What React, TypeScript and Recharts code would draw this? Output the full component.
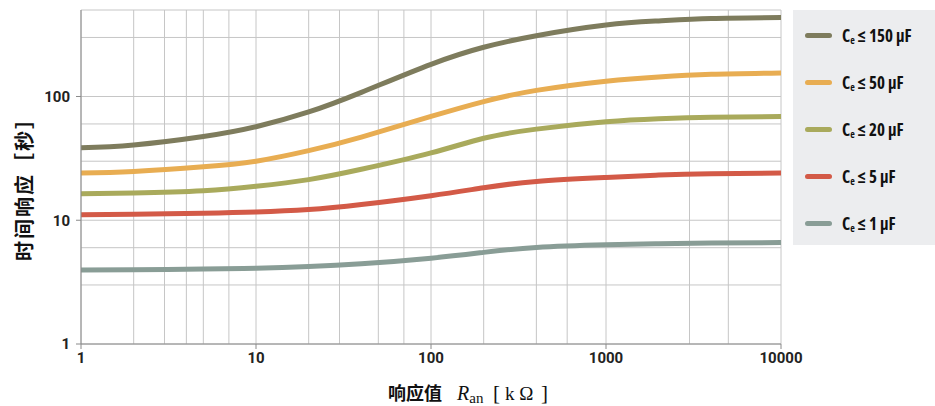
import React from "react";
import { LineChart, Line, XAxis, YAxis, CartesianGrid, Label } from "recharts";

const resistance = [1, 2, 5, 10, 20, 40, 100, 200, 400, 1000, 2000, 4000, 10000];
const ce150 = [38.6, 40.6, 47.5, 57, 75, 108, 182, 250, 310, 378, 408, 427, 434];
const ce50 = [24.1, 24.8, 27, 30, 36.5, 47, 69, 91, 112, 133, 144, 151, 155];
const ce20 = [16.4, 16.6, 17.3, 18.8, 21.3, 25.8, 35, 46, 54.5, 62.4, 66, 68, 68.9];
const ce5 = [11.1, 11.2, 11.4, 11.65, 12.2, 13.4, 15.8, 18.3, 20.6, 22.2, 23.2, 23.8, 24.1];
const ce1 = [3.97, 3.99, 4.03, 4.1, 4.23, 4.45, 4.94, 5.5, 6.03, 6.33, 6.46, 6.55, 6.6];

const xTicks = [1, 10, 100, 1000, 10000];
const yTicks = [1, 10, 100];
const xGrid = [1, 2, 3, 4, 5, 6, 7, 8, 9, 10, 20, 30, 40, 50, 60, 70, 80, 90, 100, 200, 300, 400, 500, 600, 700, 800, 900, 1000, 2000, 3000, 4000, 5000, 6000, 7000, 8000, 9000, 10000];
const yGrid = [1, 2, 3, 4, 5, 6, 7, 8, 9, 10, 20, 30, 40, 50, 60, 70, 80, 90, 100, 200, 300, 400, 500];

const series = [
  { key: "c150", label: "150 μF", color: "#7e7c5d", values: ce150 },
  { key: "c50", label: "50 μF", color: "#e8ad52", values: ce50 },
  { key: "c20", label: "20 μF", color: "#a9aa5c", values: ce20 },
  { key: "c5", label: "5 μF", color: "#d35a47", values: ce5 },
  { key: "c1", label: "1 μF", color: "#899d96", values: ce1 },
];

const data = resistance.map((r, i) => {
  const row: any = { r };
  series.forEach((s) => (row[s.key] = s.values[i]));
  return row;
});

const tickStyle = { fontFamily: "Roboto, sans-serif", fontWeight: 700, fontSize: 15, fill: "#222" };

const XLabel = (props: any) => {
  const vb = props.viewBox || {};
  const x0 = vb.x;
  const y = vb.y + 56;
  const serif = "'Liberation Serif', 'DejaVu Serif', serif";
  return (
    <text y={y} fill="#111">
      <tspan x={x0 + 307} fontFamily="'Noto Sans CJK SC', sans-serif" fontWeight={700} fontSize={18}>响应值</tspan>
      <tspan x={x0 + 376} fontFamily={serif} fontStyle="italic" fontSize={20}>R</tspan>
      <tspan fontFamily={serif} fontSize={15} dy={3}>an</tspan>
      <tspan x={x0 + 412} dy={-3} fontFamily={serif} fontSize={21}>[</tspan>
      <tspan x={x0 + 424} fontFamily={serif} fontSize={19}>k Ω</tspan>
      <tspan x={x0 + 460} fontFamily={serif} fontSize={21}>]</tspan>
    </text>
  );
};

const YLabel = (props: any) => {
  const vb = props.viewBox || {};
  const x = 23;
  const cy = vb.y + vb.height / 2 + 8;
  return (
    <text
      x={x}
      y={cy}
      transform={`rotate(-90 ${x} ${cy})`}
      textAnchor="middle"
      dominantBaseline="central"
      fontFamily="'Noto Sans CJK SC', sans-serif"
      fontWeight={700}
      fontSize={20}
      textLength={152}
      lengthAdjust="spacing"
      fill="#111"
    >
      时间响应［秒］
    </text>
  );
};

export default function App() {
  return (
    <div style={{ position: "absolute", left: 0, top: 0, width: 935, height: 406, background: "#fff" }}>
      <LineChart width={935} height={406} data={data} margin={{ top: 10, right: 154, bottom: 32, left: 21 }}>
        <CartesianGrid
          stroke="#c6c6c6"
          strokeWidth={1}
          horizontalValues={yGrid}
          verticalValues={xGrid}
        />
        <XAxis
          dataKey="r"
          type="number"
          scale="log"
          domain={[1, 10000]}
          ticks={xTicks}
          height={30}
          tick={tickStyle}
          tickSize={5}
          tickMargin={3}
          stroke="#8a8a8a"
          allowDataOverflow
        >
          <Label content={<XLabel />} />
        </XAxis>
        <YAxis
          type="number"
          scale="log"
          domain={[1, 500]}
          ticks={yTicks}
          width={60}
          tick={tickStyle}
          tickSize={5}
          tickMargin={6}
          stroke="#8a8a8a"
          allowDataOverflow
        >
          <Label content={<YLabel />} />
        </YAxis>
        {series.map((s) => (
          <Line
            key={s.key}
            dataKey={s.key}
            type="natural"
            stroke={s.color}
            strokeWidth={5}
            dot={false}
            activeDot={false}
            isAnimationActive={false}
          />
        ))}
      </LineChart>
      <div
        style={{
          position: "absolute",
          left: 793,
          top: 10,
          width: 142,
          height: 235,
          background: "#ecedef",
        }}
      >
        {series.map((s, i) => (
          <div
            key={s.key}
            style={{
              position: "absolute",
              left: 0,
              top: 25 + i * 47 - 12,
              height: 24,
              display: "flex",
              alignItems: "center",
            }}
          >
            <div style={{ marginLeft: 12, width: 27, height: 5, borderRadius: 3, background: s.color }} />
            <div
              style={{
                marginLeft: 10,
                fontFamily: "'Open Sans', sans-serif",
                fontWeight: 700,
                fontSize: 17,
                fontStretch: "condensed",
                color: "#111",
                whiteSpace: "pre",
              }}
            >
              C<sub style={{ fontSize: 10, verticalAlign: "-2px" }}>e</sub>{" ≤ " + s.label}
            </div>
          </div>
        ))}
      </div>
    </div>
  );
}
